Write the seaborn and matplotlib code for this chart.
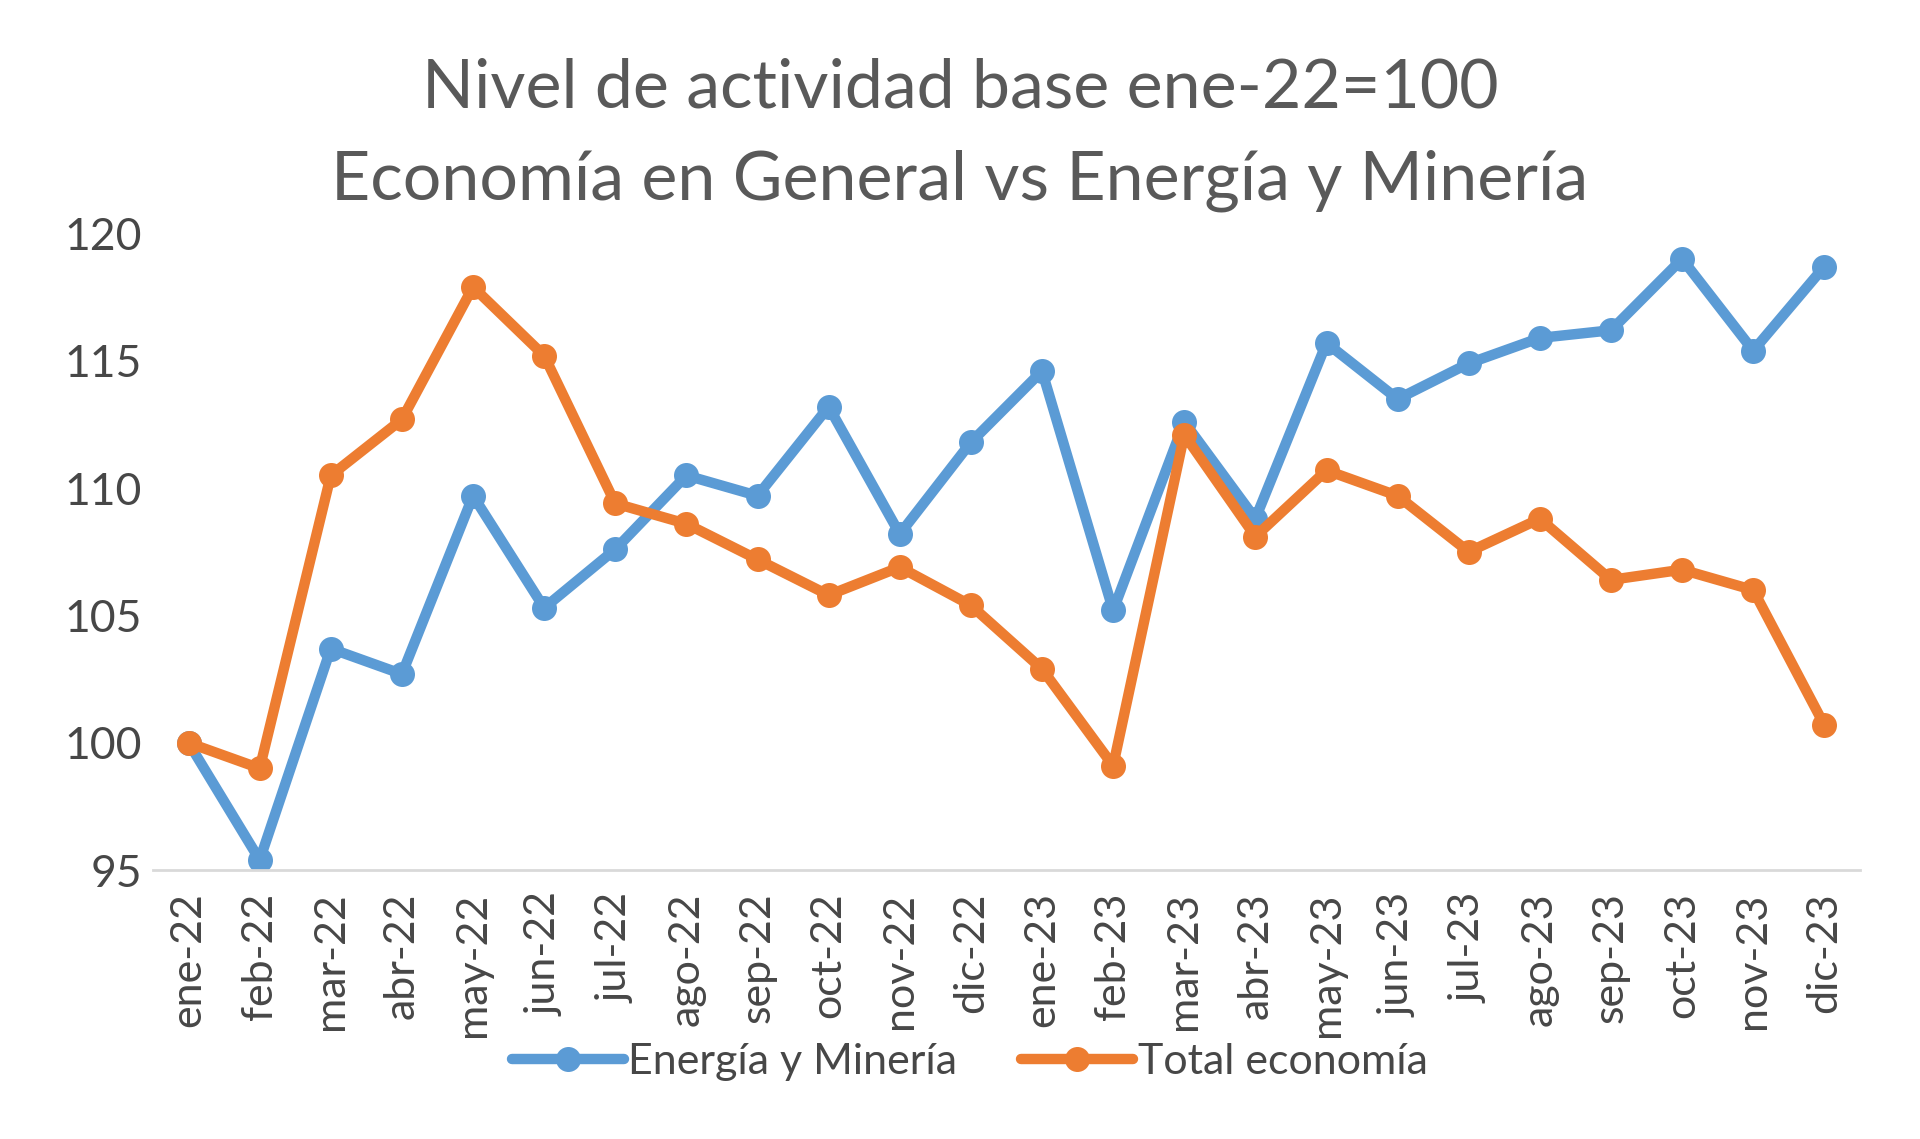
import numpy as np
import pandas as pd
import matplotlib.pyplot as plt
import seaborn as sns
#
# Data:
meses = [
    'ene-22', 'feb-22', 'mar-22', 'abr-22', 'may-22', 'jun-22',
    'jul-22', 'ago-22', 'sep-22', 'oct-22', 'nov-22', 'dic-22',
    'ene-23', 'feb-23', 'mar-23', 'abr-23', 'may-23', 'jun-23',
    'jul-23', 'ago-23', 'sep-23', 'oct-23', 'nov-23', 'dic-23'
]
energia_mineria = [
    100.0, 95.4, 103.7, 102.7, 109.7, 105.3, 107.6, 110.5, 109.7, 113.2, 108.2, 111.8,
    114.6, 105.2, 112.6, 108.8, 115.7, 113.5, 114.9, 115.9, 116.2, 119.0, 115.4, 118.7
]
total_economia = [
    100.0, 99.0, 110.5, 112.7, 117.9, 115.2, 109.4, 108.6, 107.2, 105.8, 106.9, 105.4,
    102.9, 99.1, 112.1, 108.1, 110.7, 109.7, 107.5, 108.8, 106.4, 106.8, 106.0, 100.7
]
series = ['Energía y Minería', 'Total economía']
colores = ['#5B9BD5', '#ED7D31']
#
# Long format table for seaborn:
df = pd.DataFrame({
    'pos': list(range(len(meses))) * 2,
    'valor': energia_mineria + total_economia,
    'serie': [series[0]] * len(meses) + [series[1]] * len(meses),
})
#
# Style:
sns.set_style('white')
plt.rcParams['font.family'] = ['Lato', 'DejaVu Sans']
gris = '#595959'
gris_oscuro = '#474747'
#
# Create the figure:
fig = plt.figure(figsize=(19.2, 11.39), dpi=100)
ax = fig.add_axes([0.0797, 0.236, 0.889, 0.559])
sns.lineplot(
    data=df,
    x='pos',
    y='valor',
    hue='serie',
    palette=colores,
    marker='o',
    markersize=18,
    markeredgewidth=0,
    linewidth=7.5,
    ax=ax
)
#
# Axes formatting:
ax.set_xlim(-0.5, len(meses) - 0.5)
ax.set_ylim(95, 120)
ax.set_yticks([95, 100, 105, 110, 115, 120])
ax.set_xticks(range(len(meses)))
ax.set_xticklabels(meses, rotation=90)
ax.set_xticks(np.arange(-0.5, len(meses), 1), minor=True)
ax.tick_params(axis='x', which='major', length=0, pad=16, labelsize=31, labelcolor=gris_oscuro)
ax.tick_params(axis='x', which='minor', length=14, width=1.5, color='#D9D9D9', direction='out')
ax.tick_params(axis='y', length=0, pad=8, labelsize=32, labelcolor=gris_oscuro)
ax.set_xlabel('')
ax.set_ylabel('')
for lado in ['left', 'right', 'top']:
    ax.spines[lado].set_visible(False)
ax.spines['bottom'].set_color('#D9D9D9')
ax.spines['bottom'].set_linewidth(2)
#
# Title:
fig.text(0.5, 1 - 89 / 1139, 'Nivel de actividad base ene-22=100',
         ha='center', va='center', fontsize=49, color=gris)
fig.text(0.5, 1 - 181 / 1139, 'Economía en General vs Energía y Minería',
         ha='center', va='center', fontsize=49, color=gris)
#
# Legend:
handles, labels = ax.get_legend_handles_labels()
ax.legend(
    handles, labels,
    loc='center', bbox_to_anchor=(0.505, 1 - 1062 / 1139),
    bbox_transform=fig.transFigure,
    ncol=2, frameon=False, fontsize=31, labelcolor=gris_oscuro,
    handlelength=2.6, handletextpad=0.1, columnspacing=1.5
)
#
# Save it:
fig.savefig('out.png', dpi=100)
